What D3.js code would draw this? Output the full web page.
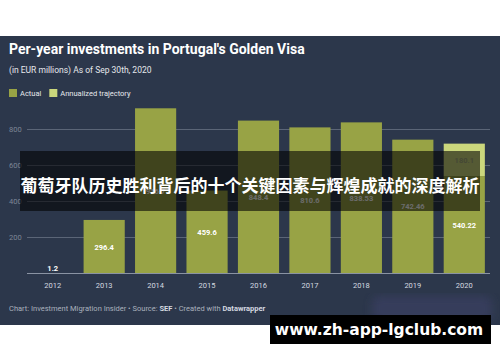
<!DOCTYPE html>
<html>
<head>
<meta charset="utf-8">
<script src="https://cdn.jsdelivr.net/npm/d3@7"></script>
<style>
  body { margin: 0; background: #fff; }
  svg { display: block; font-family: Roboto, "Noto Sans", sans-serif; }
</style>
</head>
<body>
<div id="chart"></div>
<script>
const years = ["2012", "2013", "2014", "2015", "2016", "2017", "2018", "2019", "2020"];
const actual = [1.2, 296.4, 916.7, 459.6, 848.4, 810.6, 838.53, 742.46, 540.22];
const annualized = [0, 0, 0, 0, 0, 0, 0, 0, 180.1];
const yTicks = [200, 400, 600, 800];

const width = 500, height = 362;

const svg = d3.select("#chart")
    .append("svg")
    .attr("width", width)
    .attr("height", height);

// dark panel
svg.append("rect")
    .attr("x", 0).attr("y", 36)
    .attr("width", width).attr("height", 289)
    .attr("fill", "#2c374b");

// blurry smudge bottom right
const defs = svg.append("defs");
defs.append("filter").attr("id", "blur")
    .append("feGaussianBlur").attr("stdDeviation", 4);
svg.append("rect")
    .attr("x", 372).attr("y", 296)
    .attr("width", 120).attr("height", 26)
    .attr("rx", 8)
    .attr("fill", "#3b3f63")
    .attr("opacity", 0.7)
    .attr("filter", "url(#blur)");

svg.append("text")
    .attr("x", 9).attr("y", 54)
    .attr("fill", "#fff")
    .attr("font-size", 14)
    .attr("font-weight", 700)
    .text("Per-year investments in Portugal's Golden Visa");

svg.append("text")
    .attr("x", 9).attr("y", 73)
    .attr("fill", "#e6e8ec")
    .attr("font-size", 8.5)
    .text("(in EUR millions) As of Sep 30th, 2020");

// legend
const legend = [["Actual", "#98a345"], ["Annualized trajectory", "#cbd77c"]];
let lx = 9;
legend.forEach(([name, c]) => {
    svg.append("rect").attr("x", lx).attr("y", 89).attr("width", 8).attr("height", 8).attr("fill", c);
    const t = svg.append("text")
        .attr("x", lx + 11).attr("y", 96)
        .attr("fill", "#e6e8ec")
        .attr("font-size", 7.5)
        .text(name);
    lx += 11 + t.node().getComputedTextLength() + 8;
});

const x = d3.scaleBand()
    .domain(years)
    .range([27, 490])
    .paddingInner(0.2)
    .paddingOuter(0.1);

const y = d3.scaleLinear()
    .domain([0, 800])
    .range([273.3, 129.3]);

const g = svg.append("g");

// gridlines
g.selectAll(".grid")
    .data(yTicks)
    .join("line")
    .attr("x1", 27).attr("x2", 490)
    .attr("y1", d => Math.round(y(d)) + 0.5)
    .attr("y2", d => Math.round(y(d)) + 0.5)
    .attr("stroke", "#5b6577")
    .attr("stroke-width", 1);

g.selectAll(".ylab")
    .data(yTicks)
    .join("text")
    .attr("x", 9)
    .attr("y", d => y(d) + 3)
    .attr("fill", "#7d8696")
    .attr("font-size", 7.5)
    .text(d => d);

// bars
g.selectAll(".bar")
    .data(years)
    .join("rect")
    .attr("x", d => x(d))
    .attr("width", x.bandwidth())
    .attr("y", (d, i) => y(actual[i]))
    .attr("height", (d, i) => y(0) - y(actual[i]))
    .attr("fill", "#98a345");

g.selectAll(".bar2")
    .data(years.filter((d, i) => annualized[i] > 0))
    .join("rect")
    .attr("x", d => x(d))
    .attr("width", x.bandwidth())
    .attr("y", d => { const i = years.indexOf(d); return y(actual[i] + annualized[i]); })
    .attr("height", d => { const i = years.indexOf(d); return y(actual[i]) - y(actual[i] + annualized[i]); })
    .attr("fill", "#cbd77c");

// baseline
g.append("line")
    .attr("x1", 27).attr("x2", 490)
    .attr("y1", 273.5).attr("y2", 273.5)
    .attr("stroke", "#8a93a3");

// value labels
g.selectAll(".val")
    .data(years)
    .join("text")
    .attr("x", d => x(d) + x.bandwidth() / 2)
    .attr("y", (d, i) => actual[i] < 50 ? y(actual[i]) - 2 : (y(actual[i]) + y(0)) / 2 + 3)
    .attr("text-anchor", "middle")
    .attr("fill", "#fff")
    .attr("font-size", 7.5)
    .attr("font-weight", 700)
    .text((d, i) => actual[i]);

g.selectAll(".val2")
    .data(years.filter((d, i) => annualized[i] > 0))
    .join("text")
    .attr("x", d => x(d) + x.bandwidth() / 2)
    .attr("y", d => { const i = years.indexOf(d); return (y(actual[i]) + y(actual[i] + annualized[i])) / 2 + 3; })
    .attr("text-anchor", "middle")
    .attr("fill", "#a4ab7e")
    .attr("font-size", 7.5)
    .attr("font-weight", 700)
    .text(d => annualized[years.indexOf(d)]);

// x axis labels
g.selectAll(".xlab")
    .data(years)
    .join("text")
    .attr("x", d => x(d) + x.bandwidth() / 2)
    .attr("y", 288)
    .attr("text-anchor", "middle")
    .attr("fill", "#d5d9e0")
    .attr("font-size", 7.5)
    .text(d => d);

// footer
const foot = svg.append("text")
    .attr("x", 9).attr("y", 311)
    .attr("fill", "#aab1bd")
    .attr("font-size", 7.5);
foot.append("tspan").text("Chart: Investment Migration Insider \u2022 Source: ");
foot.append("tspan").attr("font-weight", 700).attr("fill", "#d5d9e0").text("SEF");
foot.append("tspan").text(" \u2022 Created with ");
foot.append("tspan").attr("font-weight", 700).attr("fill", "#d5d9e0").text("Datawrapper");

// overlay banner
svg.append("rect")
    .attr("x", 20).attr("y", 151)
    .attr("width", 460).attr("height", 60)
    .attr("fill", "#000")
    .attr("opacity", 0.58);

svg.append("text")
    .attr("x", 250).attr("y", 192)
    .attr("text-anchor", "middle")
    .attr("fill", "#fff")
    .attr("font-size", 17)
    .attr("font-weight", 700)
    .attr("font-family", "'Noto Sans CJK SC', sans-serif")
    .text("葡萄牙队历史胜利背后的十个关键因素与辉煌成就的深度解析");

// watermark
svg.append("rect")
    .attr("x", 270).attr("y", 315)
    .attr("width", 221).attr("height", 29)
    .attr("fill", "#000");

svg.append("text")
    .attr("x", 379).attr("y", 335)
    .attr("text-anchor", "middle")
    .attr("fill", "#fff")
    .attr("font-size", 15.5)
    .attr("font-weight", 700)
    .attr("font-family", "'DejaVu Sans', sans-serif")
    .text("www.zh-app-lgclub.com");
</script>
</body>
</html>
